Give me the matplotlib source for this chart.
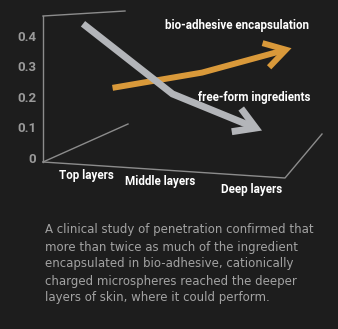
import numpy as np
import matplotlib.pyplot as plt
import matplotlib.transforms as mtransforms
from matplotlib.patches import FancyArrowPatch
from matplotlib.path import Path

# data
layers = ["Top layers", "Middle layers", "Deep layers"]
free_form = [0.44, 0.21, 0.09]
bio_adhesive = [0.23, 0.28, 0.36]
yticks = [0, 0.1, 0.2, 0.3, 0.4]
ytick_labels = ["0", "0.1", "0.2", "0.3", "0.4"]
caption = [
    "A clinical study of penetration confirmed that",
    "more than twice as much of the ingredient",
    "encapsulated in bio-adhesive, cationically",
    "charged microspheres reached the deeper",
    "layers of skin, where it could perform.",
]

W, H = 338, 329
bg = "#1d1d1d"
frame_col = "#8c8c8c"
gray = "#b3b5b9"
orange = "#d9993a"

fig = plt.figure(figsize=(W / 100, H / 100), dpi=100, facecolor=bg)
ax = fig.add_axes([0, 0, 1, 1])
ax.set_facecolor(bg)

# layer index -> pixel x = 83 + 89.5 i ; value -> pixel y = 158 - 305 v
ax.set_xlim(-83 / 89.5, (W - 83) / 89.5)
ax.set_ylim((158 - H) / 305, 158 / 305)

# pixel transform for the pseudo 3d frame and labels
pix = mtransforms.Affine2D().scale(1 / W, -1 / H).translate(0, 1) + fig.transFigure

for s in ["top", "right", "bottom"]:
    ax.spines[s].set_visible(False)
ax.spines["left"].set_position(("data", (43 - 83) / 89.5))
ax.spines["left"].set_bounds((158 - 162) / 305, (158 - 16) / 305)
ax.spines["left"].set_color(frame_col)
ax.spines["left"].set_linewidth(1.0)
ax.set_xticks([])
ax.set_yticks(yticks)
ax.set_yticklabels(ytick_labels)
ax.tick_params(axis="y", length=0, pad=5, colors="#9a9a9a", labelsize=9.5)
for t in ax.get_yticklabels():
    t.set_fontfamily(["Roboto", "DejaVu Sans"])
    t.set_fontweight("bold")

# frame lines
frame = [
    ([43, 125], [16, 11]),
    ([43, 285, 322], [162, 178, 134]),
    ([43, 128], [162, 124]),
]
for fx, fy in frame:
    ax.plot(fx, fy, color=frame_col, lw=1.0, transform=pix, clip_on=False)

# series as thick arrows
def arrow(xs, ys, color, lw):
    p = FancyArrowPatch(path=Path(np.column_stack([xs, ys])),
                        arrowstyle="->,head_length=0.75,head_width=0.45",
                        mutation_scale=20, color=color, lw=lw,
                        joinstyle="miter", capstyle="butt")
    ax.add_patch(p)

idx = np.arange(len(layers))
arrow(idx + 0.33, bio_adhesive, orange, 4.3)
arrow(idx, free_form, gray, 5.0)

lab = dict(transform=pix, color="white", fontsize=8.4, fontweight="bold",
           family=["Roboto", "DejaVu Sans"], va="center")
ax.text(165, 26, "bio-adhesive encapsulation", ha="left", **lab)
ax.text(198, 97, "free-form ingredients", ha="left", **lab)

label_pos = [(86, 176), (160, 182), (252, 190)]
for name, (lx, ly) in zip(layers, label_pos):
    ax.text(lx, ly, name, ha="center", **lab)

for i, line in enumerate(caption):
    ax.text(45, 230 + 17 * i, line, transform=pix, color="#a3a3a3",
            fontsize=8.5, family="DejaVu Sans", ha="left", va="center")

fig.savefig("out.png", dpi=100, facecolor=bg)
